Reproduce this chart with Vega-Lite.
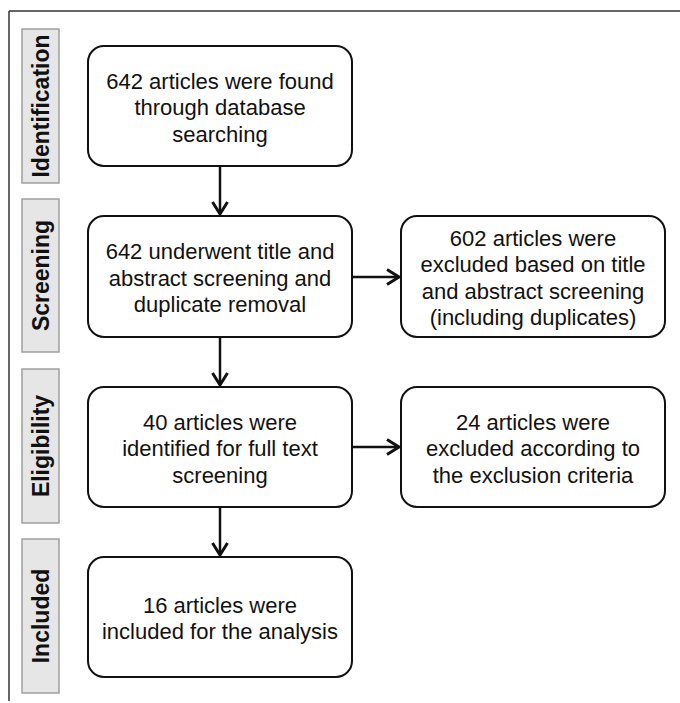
{
  "$schema": "https://vega.github.io/schema/vega-lite/v6.json",
  "width": 680,
  "height": 703,
  "padding": 0,
  "autosize": {"type": "none"},
  "background": "white",
  "config": {"view": {"stroke": null}},
  "datasets": {
    "border": [
      {"x": 9, "x2": 680, "y": 11, "y2": 11},
      {"x": 9, "x2": 9, "y": 11, "y2": 701}
    ],
    "phases": [
      {"label": "Identification", "x": 22, "x2": 59, "y": 29, "y2": 183},
      {"label": "Screening", "x": 22, "x2": 59, "y": 199, "y2": 352},
      {"label": "Eligibility", "x": 22, "x2": 59, "y": 369, "y2": 523},
      {"label": "Included", "x": 22, "x2": 59, "y": 539, "y2": 693}
    ],
    "boxes": [
      {"text": "642 articles were found\nthrough database\nsearching", "x": 88, "x2": 352, "y": 46, "y2": 166},
      {"text": "642 underwent title and\nabstract screening and\nduplicate removal", "x": 88, "x2": 352, "y": 216, "y2": 337},
      {"text": "40 articles were\nidentified for full text\nscreening", "x": 88, "x2": 352, "y": 387, "y2": 507},
      {"text": "16 articles were\nincluded for the analysis", "x": 88, "x2": 352, "y": 557, "y2": 677},
      {"text": "602 articles were\nexcluded based on title\nand abstract screening\n(including duplicates)", "x": 401, "x2": 665, "y": 216, "y2": 337},
      {"text": "24 articles were\nexcluded according to\nthe exclusion criteria", "x": 401, "x2": 665, "y": 387, "y2": 507}
    ],
    "arrows": [
      {"x": 220, "x2": 220, "y": 166, "y2": 214, "dir": "down"},
      {"x": 220, "x2": 220, "y": 337, "y2": 385, "dir": "down"},
      {"x": 220, "x2": 220, "y": 507, "y2": 555, "dir": "down"},
      {"x": 352, "x2": 399, "y": 277, "y2": 277, "dir": "right"},
      {"x": 352, "x2": 399, "y": 447, "y2": 447, "dir": "right"}
    ]
  },
  "layer": [
    {
      "data": {"name": "border"},
      "mark": {"type": "rule", "color": "#333333", "strokeWidth": 1.5},
      "encoding": {
        "x": {"field": "x", "type": "quantitative", "scale": {"domain": [0, 680], "nice": false, "zero": false}, "axis": null},
        "x2": {"field": "x2"},
        "y": {"field": "y", "type": "quantitative", "scale": {"domain": [0, 703], "nice": false, "zero": false, "reverse": true}, "axis": null},
        "y2": {"field": "y2"}
      }
    },
    {
      "data": {"name": "phases"},
      "mark": {"type": "rect", "fill": "#e6e6e6", "stroke": "#a0a0a0", "strokeWidth": 1.5},
      "encoding": {
        "x": {"field": "x", "type": "quantitative", "scale": {"domain": [0, 680], "nice": false, "zero": false}, "axis": null},
        "x2": {"field": "x2"},
        "y": {"field": "y", "type": "quantitative", "scale": {"domain": [0, 703], "nice": false, "zero": false, "reverse": true}, "axis": null},
        "y2": {"field": "y2"}
      }
    },
    {
      "data": {"name": "phases"},
      "transform": [
        {"calculate": "(datum.x + datum.x2) / 2", "as": "cx"},
        {"calculate": "(datum.y + datum.y2) / 2", "as": "cy"}
      ],
      "mark": {"type": "text", "angle": 270, "align": "center", "baseline": "middle", "font": "Liberation Sans", "fontWeight": "bold", "fontSize": 23, "color": "#111111", "dy": 1},
      "encoding": {
        "x": {"field": "cx", "type": "quantitative", "scale": {"domain": [0, 680], "nice": false, "zero": false}, "axis": null},
        "y": {"field": "cy", "type": "quantitative", "scale": {"domain": [0, 703], "nice": false, "zero": false, "reverse": true}, "axis": null},
        "text": {"field": "label"}
      }
    },
    {
      "data": {"name": "boxes"},
      "mark": {"type": "rect", "fill": "white", "stroke": "#111111", "strokeWidth": 2, "cornerRadius": 16},
      "encoding": {
        "x": {"field": "x", "type": "quantitative", "scale": {"domain": [0, 680], "nice": false, "zero": false}, "axis": null},
        "x2": {"field": "x2"},
        "y": {"field": "y", "type": "quantitative", "scale": {"domain": [0, 703], "nice": false, "zero": false, "reverse": true}, "axis": null},
        "y2": {"field": "y2"}
      }
    },
    {
      "data": {"name": "boxes"},
      "transform": [
        {"calculate": "(datum.x + datum.x2) / 2", "as": "cx"},
        {"calculate": "(datum.y + datum.y2) / 2 - (length(split(datum.text, '\\n')) - 1) * 13.25", "as": "cy"}
      ],
      "mark": {"type": "text", "align": "center", "baseline": "middle", "lineBreak": "\n", "lineHeight": 26.5, "font": "Liberation Sans", "fontSize": 22, "color": "#111111", "dy": 2},
      "encoding": {
        "x": {"field": "cx", "type": "quantitative", "scale": {"domain": [0, 680], "nice": false, "zero": false}, "axis": null},
        "y": {"field": "cy", "type": "quantitative", "scale": {"domain": [0, 703], "nice": false, "zero": false, "reverse": true}, "axis": null},
        "text": {"field": "text"}
      }
    },
    {
      "data": {"name": "arrows"},
      "mark": {"type": "rule", "color": "#111111", "strokeWidth": 2.5},
      "encoding": {
        "x": {"field": "x", "type": "quantitative", "scale": {"domain": [0, 680], "nice": false, "zero": false}, "axis": null},
        "x2": {"field": "x2"},
        "y": {"field": "y", "type": "quantitative", "scale": {"domain": [0, 703], "nice": false, "zero": false, "reverse": true}, "axis": null},
        "y2": {"field": "y2"}
      }
    },
    {
      "data": {"name": "arrows"},
      "mark": {"type": "point", "filled": false, "stroke": "#111111", "strokeWidth": 3, "opacity": 1, "size": 900, "strokeJoin": "miter"},
      "encoding": {
        "x": {"field": "x2", "type": "quantitative", "scale": {"domain": [0, 680], "nice": false, "zero": false}, "axis": null},
        "y": {"field": "y2", "type": "quantitative", "scale": {"domain": [0, 703], "nice": false, "zero": false, "reverse": true}, "axis": null},
        "shape": {"field": "dir", "type": "nominal", "scale": {"domain": ["down", "right"], "range": ["M-0.5,-0.8L0,0L0.5,-0.8", "M-0.8,-0.5L0,0L-0.8,0.5"]}, "legend": null}
      }
    }
  ]
}
